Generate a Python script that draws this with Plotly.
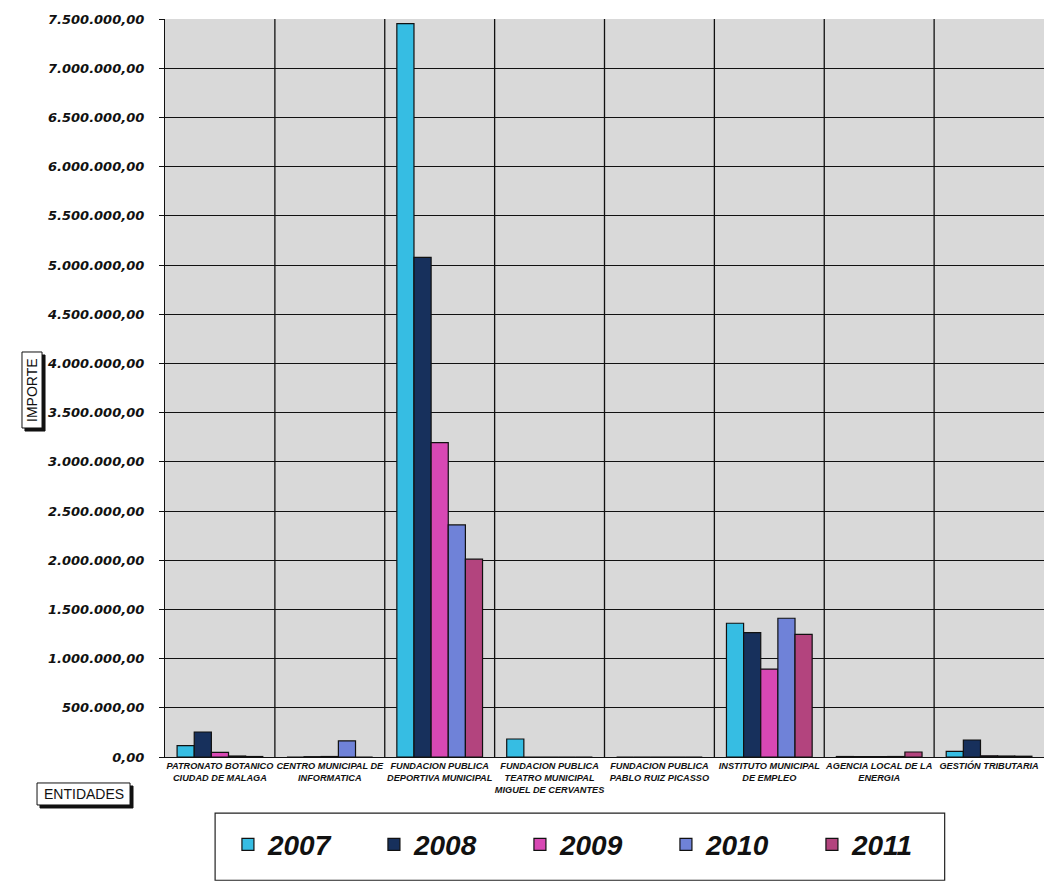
import plotly.graph_objects as go

# Entidades y años
entidades = [
    "PATRONATO BOTANICO<br>CIUDAD DE MALAGA",
    "CENTRO MUNICIPAL DE<br>INFORMATICA",
    "FUNDACION PUBLICA<br>DEPORTIVA MUNICIPAL",
    "FUNDACION PUBLICA<br>TEATRO MUNICIPAL<br>MIGUEL DE CERVANTES",
    "FUNDACION PUBLICA<br>PABLO RUIZ PICASSO",
    "INSTITUTO MUNICIPAL<br>DE EMPLEO",
    "AGENCIA LOCAL DE LA<br>ENERGIA",
    "GESTIÓN TRIBUTARIA",
]
anios = ["2007", "2008", "2009", "2010", "2011"]

# Importes por año (euros)
imp_2007 = [115000, 0, 7452000, 183000, 0, 1359000, 5000, 57000]
imp_2008 = [254000, 3000, 5078000, 0, 0, 1263000, 4000, 173000]
imp_2009 = [47000, 5000, 3194000, 0, 0, 894000, 4000, 12000]
imp_2010 = [10000, 163000, 2358000, 0, 0, 1410000, 5000, 10000]
imp_2011 = [5000, 0, 2010000, 0, 0, 1247000, 51000, 8000]

colores = ["#36bde3", "#17305c", "#d848b4", "#6f82d8", "#b3447e"]
series = [imp_2007, imp_2008, imp_2009, imp_2010, imp_2011]

fig = go.Figure()
for anio, vals, col in zip(anios, series, colores):
    fig.add_trace(go.Bar(
        x=entidades, y=vals, name=anio,
        marker=dict(color=col, line=dict(color="#111111", width=1.2)),
    ))

# Separadores verticales entre entidades
shapes = []
for i in range(len(entidades) - 1):
    shapes.append(dict(type="line", xref="x", yref="paper",
                       x0=i + 0.5, x1=i + 0.5, y0=0, y1=1,
                       line=dict(color="#111111", width=1.3), layer="below"))


def caja(x0, x1, y0, y1, dx=0.0034, dy=0.0041):
    """Recuadro blanco con sombra negra desplazada."""
    return [
        dict(type="rect", xref="paper", yref="paper",
             x0=x0 + dx, x1=x1 + dx, y0=y0 - dy, y1=y1 - dy,
             line=dict(color="#111111", width=1), fillcolor="#111111"),
        dict(type="rect", xref="paper", yref="paper",
             x0=x0, x1=x1, y0=y0, y1=y1,
             line=dict(color="#111111", width=1), fillcolor="white"),
    ]


# Recuadros de los títulos de eje
shapes += caja(-0.1627, -0.1399, 0.4458, 0.5488)
shapes += caja(-0.1456, -0.0398, -0.0650, -0.0352)

# Recuadro de la leyenda
shapes.append(dict(type="rect", xref="paper", yref="paper",
                   x0=0.057, x1=0.887, y0=-0.076, y1=-0.167,
                   line=dict(color="#222222", width=1.2), fillcolor="white"))

font_ital = dict(family="Liberation Sans, Arial, sans-serif", weight="bold", style="italic", color="#111111")
font_box = dict(family="Liberation Sans, Arial, sans-serif", size=14, color="#111111")

fig.update_layout(
    width=1057, height=882,
    margin=dict(l=165, r=13, t=19, b=125, autoexpand=False),
    paper_bgcolor="white",
    plot_bgcolor="#d9d9d9",
    separators=",.",
    barmode="group",
    bargap=0.22,
    bargroupgap=0,
    shapes=shapes,
    showlegend=True,
    legend=dict(
        orientation="h", x=0.0716, xanchor="left", y=-0.085, yanchor="top",
        font=dict(size=28, **font_ital),
        entrywidth=101, entrywidthmode="pixels",
        bgcolor="rgba(0,0,0,0)", borderwidth=0,
    ),
    xaxis=dict(
        range=[-0.5, 7.5],
        showgrid=False,
        showline=True, linecolor="#111111", linewidth=1.3,
        ticks="",
        tickfont=dict(size=9.2, **font_ital),
        tickangle=0,
    ),
    yaxis=dict(
        range=[0, 7500000],
        tick0=0, dtick=500000,
        tickformat=",.2f",
        showgrid=True, gridcolor="#111111", gridwidth=1.3,
        zeroline=False,
        showline=True, linecolor="#111111", linewidth=1.3,
        ticks="outside", ticklen=5, tickcolor="#111111",
        ticklabelstandoff=12,
        tickfont=dict(family="DejaVu Sans, sans-serif", size=13, weight="bold", style="italic", color="#111111"),
    ),
    annotations=[
        dict(text="IMPORTE", xref="paper", yref="paper", x=-0.1513, y=0.4973,
             xanchor="center", yanchor="middle", textangle=-90, showarrow=False,
             font=font_box),
        dict(text="ENTIDADES", xref="paper", yref="paper", x=-0.0927, y=-0.0501,
             xanchor="center", yanchor="middle", showarrow=False,
             font=font_box),
    ],
)

fig.write_html("out.html")
